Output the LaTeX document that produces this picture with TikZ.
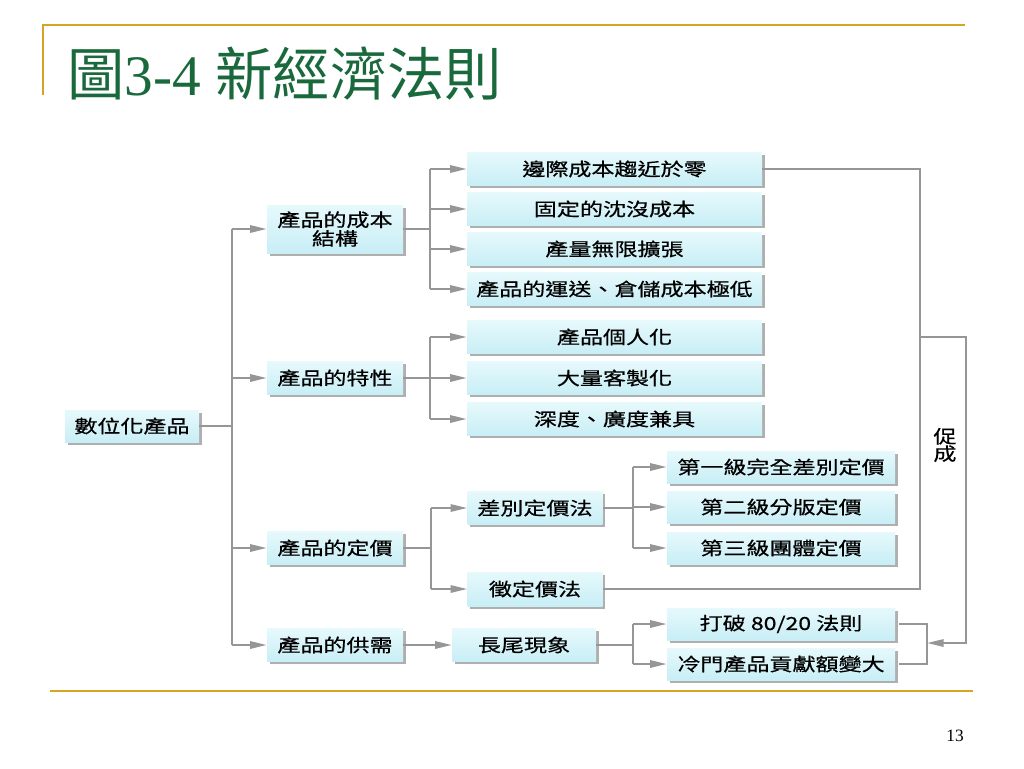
\documentclass[tikz,border=0pt]{standalone}
\usepackage{fontspec}
\setmainfont{Liberation Serif}
\newfontfamily\cjk{Noto Sans CJK TC}
\newfontfamily\boxfont[FakeStretch=1.28,FakeBold=0.6]{Noto Sans CJK TC}
\usetikzlibrary{arrows.meta,shadows,calc}
\definecolor{gold}{RGB}{214,165,35}
\definecolor{titlegreen}{RGB}{25,105,60}
\definecolor{lineg}{RGB}{150,150,150}
\definecolor{boxtop}{RGB}{230,249,252}
\definecolor{boxbot}{RGB}{200,238,246}
\definecolor{shadowg}{RGB}{175,175,175}
\begin{document}
\begin{tikzpicture}[x=0.75pt,y=-0.75pt,
  box/.style={shade, top color=boxtop, bottom color=boxbot, draw=none, inner sep=0pt,
    minimum height=24.75pt, align=center,
    font=\boxfont\fontsize{13.5}{14}\selectfont,
    drop shadow={shadow xshift=2pt, shadow yshift=-2pt, fill=shadowg, opacity=1}},
  wa/.style={minimum width=100.5pt},
  wb/.style={minimum width=102pt},
  wc/.style={minimum width=221.25pt},
  wd/.style={minimum width=101.25pt},
  we/.style={minimum width=171pt},
  conn/.style={draw=lineg, line width=1.5pt},
  arr/.style={conn, -{Triangle[length=12.5pt,width=5.5pt]}},
  goldline/.style={draw=gold, line width=1.6pt}]
\useasboundingbox (0,0) rectangle (1024,768);
\fill[white] (0,0) rectangle (1024,768);

% slide decorations
\draw[goldline] (42,25) -- (965,25);
\draw[goldline] (43,25) -- (43,95);
\draw[goldline] (50,691) -- (973,691);
\node[anchor=base west, inner sep=0pt, text=titlegreen, font=\fontsize{43}{43}\selectfont] (title) at (67,95) {{\cjk 圖}3-4 {\cjk 新經濟法則}};
\node[font=\fontsize{13}{13}\selectfont] (pg) at (955,736) {13};

% boxes
\node[box, wa, minimum height=24pt] (a) at (132,426) {數位化產品};
\node[box, wb, minimum height=36pt] (b1) at (335,229) {產品的成本\\結構};
\node[box, wb] (b2) at (335,378) {產品的特性};
\node[box, wb] (b3) at (335,548) {產品的定價};
\node[box, wb] (b4) at (335,645) {產品的供需};

\node[box, wc] (c1) at (614.5,169) {邊際成本趨近於零};
\node[box, wc] (c2) at (614.5,209) {固定的沈沒成本};
\node[box, wc] (c3) at (614.5,249) {產量無限擴張};
\node[box, wc] (c4) at (614.5,289) {產品的運送、倉儲成本極低};
\node[box, wc] (c5) at (614.5,337) {產品個人化};
\node[box, wc] (c6) at (614.5,378) {大量客製化};
\node[box, wc] (c7) at (614.5,419) {深度、廣度兼具};

\node[box, wd] (d1) at (535,508) {差別定價法};
\node[box, wd, minimum height=25.5pt] (d2) at (535,589) {徵定價法};
\node[box, minimum width=108pt] (d3) at (524,645) {長尾現象};

\node[box, we, minimum height=24pt] (e1) at (781,467) {第一級完全差別定價};
\node[box, we, minimum height=24pt] (e2) at (781,507) {第二級分版定價};
\node[box, we, minimum height=24pt] (e3) at (781,548) {第三級團體定價};
\node[box, we, minimum height=24pt] (f1) at (781,624) {打破 80/20 法則};
\node[box, we, minimum height=24pt] (f2) at (781,664) {冷門產品貢獻額變大};

\node[font=\boxfont\fontsize{13.5}{13}\selectfont, align=center, inner sep=0pt] (pc) at (945,445) {促\\成};

% trunk
\coordinate (t) at (232,426);
\draw[conn] (a.east) -- (t);
\draw[conn] (t |- b1.west) -- (t |- b4.west);
\foreach \n in {b1,b2,b3,b4} \draw[arr] (t |- \n.west) -- (\n.west);

% cost structure
\coordinate (k1) at (430,229);
\draw[conn] (b1.east) -- (k1);
\draw[conn] (k1 |- c1.west) -- (k1 |- c4.west);
\foreach \n in {c1,c2,c3,c4} \draw[arr] (k1 |- \n.west) -- (\n.west);

% characteristics
\coordinate (k2) at (430,378);
\draw[conn] (b2.east) -- (k2);
\draw[conn] (k2 |- c5.west) -- (k2 |- c7.west);
\foreach \n in {c5,c6,c7} \draw[arr] (k2 |- \n.west) -- (\n.west);

% pricing
\coordinate (k3) at (431,548);
\draw[conn] (b3.east) -- (k3);
\draw[conn] (k3 |- d1.west) -- (k3 |- d2.west);
\foreach \n in {d1,d2} \draw[arr] (k3 |- \n.west) -- (\n.west);

\coordinate (k4) at (633,508);
\draw[conn] (d1.east) -- (k4);
\draw[conn] (k4 |- e1.west) -- (k4 |- e3.west);
\foreach \n in {e1,e2,e3} \draw[arr] (k4 |- \n.west) -- (\n.west);

% supply and demand
\draw[arr] (b4.east) -- (d3.west);
\coordinate (k5) at (633,645);
\draw[conn] (d3.east) -- (k5);
\draw[conn] (k5 |- f1.west) -- (k5 |- f2.west);
\foreach \n in {f1,f2} \draw[arr] (k5 |- \n.west) -- (\n.west);

% feedback
\coordinate (r1) at (920,169);
\draw[conn] (c1.east) -- (r1 |- c1.east) -- (r1 |- d2.east) -- (d2.east);
\coordinate (r2) at (966,337);
\coordinate (bk) at (927,643);
\draw[conn] ([xshift=3pt]f1.east) -- (bk |- f1.east) -- (bk |- f2.east) -- ([xshift=3pt]f2.east);
\draw[arr] (r1 |- r2) -- (r2) -- (r2 |- bk) -- (bk);
\end{tikzpicture}
\end{document}
